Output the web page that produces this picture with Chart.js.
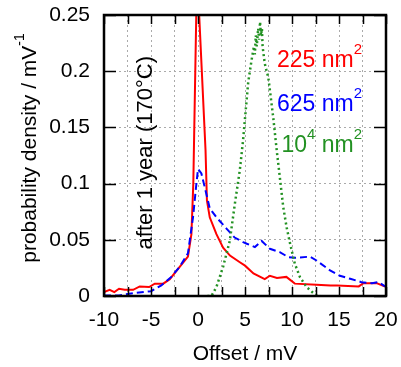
<!DOCTYPE html>
<html>
<head>
<meta charset="utf-8">
<script src="https://cdn.jsdelivr.net/npm/chart.js@4.4.1/dist/chart.umd.min.js"></script>
<style>
  html, body { margin: 0; padding: 0; background: #fff; }
  #wrap { width: 401px; height: 367px; }
</style>
</head>
<body>
<div id="wrap"><canvas id="offsetChart" width="401" height="367"></canvas></div>
<script>
// Offset distributions after 1 year at 170°C, three junction areas
const red225X = [-10, -9.4, -8.9, -8.4, -7.8, -6.9, -6.2, -5.2, -4.6, -3.7, -3.0, -1.95, -1.07, -0.7, -0.5, -0.1, 0.8, 0.95, 1.25, 1.96, 2.67, 3.4, 4.45, 5.0, 5.9, 7.1, 7.65, 8.4, 9.4, 10.3, 12.6, 14.1, 14.8, 17.1, 17.6, 19.0, 19.9];
const red225Y = [0.0034, 0.0055, 0.0034, 0.0064, 0.0055, 0.0055, 0.0085, 0.008, 0.011, 0.011, 0.015, 0.026, 0.035, 0.055, 0.10, 0.29, 0.13, 0.085, 0.07, 0.055, 0.043, 0.036, 0.030, 0.027, 0.020, 0.015, 0.018, 0.016, 0.017, 0.011, 0.010, 0.0094, 0.0094, 0.0085, 0.0114, 0.0114, 0.0085];

const blue625X = [-10, -8.4, -6.9, -5.0, -3.9, -2.84, -1.95, -1.07, -0.53, -0.17, 0, 0.36, 0.71, 1.25, 1.96, 3.03, 3.9, 4.8, 5.2, 6.05, 6.77, 7.65, 8.7, 9.6, 10.3, 11.9, 12.6, 14.05, 15.1, 16.2, 17.4, 18.5, 19.2, 19.9];
const blue625Y = [0.0005, 0.0005, 0.0025, 0.0043, 0.0094, 0.017, 0.026, 0.038, 0.070, 0.10, 0.113, 0.109, 0.097, 0.078, 0.070, 0.060, 0.052, 0.048, 0.0465, 0.0435, 0.049, 0.042, 0.039, 0.0346, 0.034, 0.035, 0.0316, 0.0227, 0.018, 0.0153, 0.0123, 0.0114, 0.0123, 0.0085];

const green1e4X = [1.0, 1.43, 1.96, 2.67, 3.38, 3.92, 4.45, 4.8, 5.17, 5.34, 5.7, 5.95, 6.05, 6.15, 6.25, 6.4, 6.5, 6.6, 6.7, 6.8, 6.87, 7.1, 7.3, 7.47, 7.65, 8.0, 8.37, 8.7, 9.07, 9.43, 9.8, 10.3, 10.85, 11.57, 12.45, 13.0];
const green1e4Y = [0, 0, 0.008, 0.026, 0.049, 0.082, 0.112, 0.139, 0.174, 0.19, 0.21, 0.222, 0.215, 0.232, 0.222, 0.238, 0.228, 0.244, 0.232, 0.238, 0.222, 0.207, 0.2, 0.195, 0.183, 0.159, 0.13, 0.106, 0.079, 0.061, 0.0465, 0.0287, 0.0168, 0.0078, 0.0013, 0];

const xTickVals = [-10, -5, 0, 5, 10, 15, 20];
const xTickLabels = ['-10', '-5', '0', '5', '10', '15', '20'];
const yTickVals = [0, 0.05, 0.1, 0.15, 0.2, 0.25];
const yTickLabels = ['0', '0.05', '0.1', '0.15', '0.2', '0.25'];
const xMinorStep = 2.5;

const FONT = '"Liberation Sans", Arial, Helvetica, sans-serif';
const GREEN = '#229122';

function toPoints(xs, ys) {
    return xs.map((x, i) => ({ x: x, y: ys[i] }));
}

function labelFor(vals, labels, v) {
    const i = vals.findIndex(t => Math.abs(t - v) < 1e-6);
    return i >= 0 ? labels[i] : '';
}

// no extra room for overhanging tick labels, the layout padding handles it
function noLabelPadding(scale) {
    scale.paddingLeft = 0;
    scale.paddingRight = 0;
    scale.paddingTop = 0;
    scale.paddingBottom = 0;
}

// draw a string with superscript parts, left/center/right aligned at baseline y
function drawRich(ctx, parts, x, y, size, align, color) {
    const supSize = Math.round(size * 0.66);
    let total = 0;
    parts.forEach(p => {
        ctx.font = `${p.sup ? supSize : size}px ${FONT}`;
        p.w = ctx.measureText(p.t).width;
        total += p.w;
    });
    let cx = align === 'center' ? x - total / 2 : (align === 'right' ? x - total : x);
    ctx.fillStyle = color;
    ctx.textAlign = 'left';
    ctx.textBaseline = 'alphabetic';
    parts.forEach(p => {
        ctx.font = `${p.sup ? supSize : size}px ${FONT}`;
        ctx.fillText(p.t, cx, p.sup ? y - size * 0.56 : y);
        cx += p.w;
    });
}

const framePlugin = {
    id: 'frame',
    afterDraw(chart) {
        const ctx = chart.ctx;
        const a = chart.chartArea;
        const xs = chart.scales.x;
        const ys = chart.scales.y;
        ctx.save();
        ctx.strokeStyle = '#000';
        ctx.lineWidth = 1.5;
        ctx.beginPath();
        for (let v = xs.min; v <= xs.max + 1e-9; v += xMinorStep) {
            const px = Math.round(xs.getPixelForValue(v)) + 0.5;
            ctx.moveTo(px, a.bottom); ctx.lineTo(px, a.bottom - 9);
            ctx.moveTo(px, a.top); ctx.lineTo(px, a.top + 9);
        }
        yTickVals.forEach(v => {
            const py = Math.round(ys.getPixelForValue(v)) + 0.5;
            ctx.moveTo(a.left, py); ctx.lineTo(a.left + 12, py);
            ctx.moveTo(a.right, py); ctx.lineTo(a.right - 12, py);
        });
        ctx.stroke();
        ctx.lineWidth = 2.5;
        ctx.strokeRect(a.left, a.top, a.right - a.left, a.bottom - a.top);

        // axis titles
        drawRich(ctx, [{ t: 'Offset / mV' }], (a.left + a.right) / 2, 360, 21, 'center', '#000');
        ctx.save();
        ctx.translate(36, 148);
        ctx.rotate(-Math.PI / 2);
        drawRich(ctx, [{ t: 'probability density / mV' }, { t: '-1', sup: true }], 0, 0, 21, 'center', '#000');
        ctx.restore();

        // annotations
        ctx.save();
        ctx.translate(xs.getPixelForValue(-4.85), ys.getPixelForValue(0.1275));
        ctx.rotate(-Math.PI / 2);
        drawRich(ctx, [{ t: 'after 1 year (170°C)' }], 0, 0, 22, 'center', '#000');
        ctx.restore();

        const rx = xs.getPixelForValue(17.45);
        drawRich(ctx, [{ t: '225 nm' }, { t: '2', sup: true }], rx, ys.getPixelForValue(0.2036), 23, 'right', '#ff0000');
        drawRich(ctx, [{ t: '625 nm' }, { t: '2', sup: true }], rx, ys.getPixelForValue(0.165), 23, 'right', '#0000ff');
        drawRich(ctx, [{ t: '10' }, { t: '4', sup: true }, { t: ' nm' }, { t: '2', sup: true }], rx, ys.getPixelForValue(0.128), 23, 'right', GREEN);
        ctx.restore();
    }
};

document.addEventListener('DOMContentLoaded', () => {
    const ctx = document.getElementById('offsetChart').getContext('2d');
    new Chart(ctx, {
        type: 'line',
        data: {
            datasets: [
                {
                    label: '10^4 nm2',
                    data: toPoints(green1e4X, green1e4Y),
                    borderColor: GREEN,
                    borderWidth: 2.5,
                    borderDash: [2, 3],
                    pointRadius: 0,
                    tension: 0
                },
                {
                    label: '625 nm2',
                    data: toPoints(blue625X, blue625Y),
                    borderColor: '#0000ff',
                    borderWidth: 2,
                    borderDash: [7, 4],
                    pointRadius: 0,
                    tension: 0
                },
                {
                    label: '225 nm2',
                    data: toPoints(red225X, red225Y),
                    borderColor: '#ff0000',
                    borderWidth: 2,
                    pointRadius: 0,
                    tension: 0
                }
            ]
        },
        options: {
            responsive: false,
            animation: false,
            layout: { padding: { top: 15, right: 15, left: 0, bottom: 0 } },
            plugins: {
                legend: { display: false },
                tooltip: { enabled: false }
            },
            scales: {
                x: {
                    type: 'linear',
                    min: -10,
                    max: 20,
                    afterFit: (scale) => { scale.height = 71; noLabelPadding(scale); },
                    afterBuildTicks: (scale) => {
                        const t = [];
                        for (let v = -10; v <= 20; v += xMinorStep) t.push({ value: v });
                        scale.ticks = t;
                    },
                    ticks: {
                        autoSkip: false,
                        maxRotation: 0,
                        padding: 12,
                        color: '#000',
                        font: { size: 21, family: FONT },
                        callback: (v) => labelFor(xTickVals, xTickLabels, v)
                    },
                    grid: { color: '#aaaaaa', lineWidth: 1, drawTicks: false },
                    border: { display: false, dash: [2, 3] }
                },
                y: {
                    min: 0,
                    max: 0.25,
                    afterFit: (scale) => { scale.width = 104; noLabelPadding(scale); },
                    afterBuildTicks: (scale) => {
                        scale.ticks = yTickVals.map(v => ({ value: v }));
                    },
                    ticks: {
                        autoSkip: false,
                        padding: 14,
                        color: '#000',
                        font: { size: 21, family: FONT },
                        callback: (v) => labelFor(yTickVals, yTickLabels, v)
                    },
                    grid: { color: '#aaaaaa', lineWidth: 1, drawTicks: false },
                    border: { display: false, dash: [2, 3] }
                }
            }
        },
        plugins: [framePlugin]
    });
});
</script>
</body>
</html>
